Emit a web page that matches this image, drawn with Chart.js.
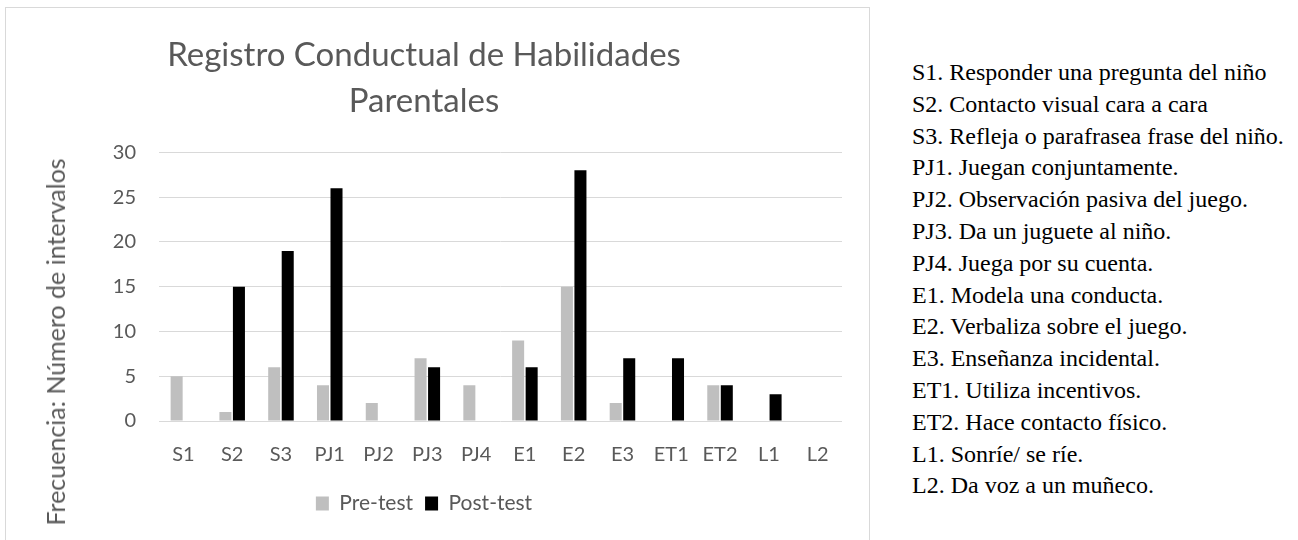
<!DOCTYPE html>
<html>
<head>
<meta charset="utf-8">
<script src="https://cdn.jsdelivr.net/npm/chart.js@4"></script>
<style>
    html, body { margin: 0; padding: 0; background: #fff; width: 1298px; height: 540px; overflow: hidden; }
    #chartBox {
        position: absolute; left: 5px; top: 7px;
        width: 863px; height: 558px;
        border: 1px solid #d9d9d9;
        overflow: hidden;
    }
    #yTitle {
        position: absolute; left: 55px; top: 342px;
        transform: translate(-50%, -50%) rotate(-90deg);
        white-space: nowrap;
        font-family: Lato, sans-serif; font-size: 25px; color: #595959;
    }
    #legendList {
        position: absolute; left: 912px; top: 57px;
        margin: 0; padding: 0; list-style: none;
        font-family: "Liberation Serif", "Times New Roman", serif;
        font-size: 24px; line-height: 31.8px; color: #000;
    }
</style>
</head>
<body>
<div id="chartBox"><canvas id="habilidadesChart" width="863" height="558"></canvas></div>
<div id="yTitle">Frecuencia: Número de intervalos</div>
<ul id="legendList"></ul>

<script>
    const categories = ['S1', 'S2', 'S3', 'PJ1', 'PJ2', 'PJ3', 'PJ4', 'E1', 'E2', 'E3', 'ET1', 'ET2', 'L1', 'L2'];
    const preTest  = [5, 1, 6, 4, 2, 7, 4, 9, 15, 2, 0, 4, 0, 0];
    const postTest = [0, 15, 19, 26, 0, 6, 0, 6, 28, 7, 7, 4, 3, 0];
    const yMax = 30;
    const yStep = 5;
    const descriptions = [
        'S1. Responder una pregunta del niño',
        'S2. Contacto visual cara a cara',
        'S3. Refleja o parafrasea frase del niño.',
        'PJ1. Juegan conjuntamente.',
        'PJ2. Observación pasiva del juego.',
        'PJ3. Da un juguete al niño.',
        'PJ4. Juega por su cuenta.',
        'E1. Modela una conducta.',
        'E2. Verbaliza sobre el juego.',
        'E3. Enseñanza incidental.',
        'ET1. Utiliza incentivos.',
        'ET2. Hace contacto físico.',
        'L1. Sonríe/ se ríe.',
        'L2. Da voz a un muñeco.'
    ];

    // lista de la derecha
    const list = document.getElementById('legendList');
    descriptions.forEach(function(txt) {
        const li = document.createElement('li');
        li.textContent = txt;
        list.appendChild(li);
    });

    const textGray = '#595959';
    const gridGray = '#d9d9d9';

    const ctx = document.getElementById('habilidadesChart').getContext('2d');
    new Chart(ctx, {
        type: 'bar',
        data: {
            labels: categories,
            datasets: [{
                label: 'Pre-test',
                data: preTest,
                backgroundColor: '#bfbfbf',
                borderWidth: 0
            }, {
                label: 'Post-test',
                data: postTest,
                backgroundColor: '#000000',
                borderWidth: 0
            }]
        },
        options: {
            responsive: false,
            animation: false,
            categoryPercentage: 0.554,
            barPercentage: 0.89,
            layout: { padding: { left: 0, right: 27, top: 0, bottom: 42 } },
            plugins: {
                tooltip: { enabled: false },
                title: {
                    display: true,
                    text: ['Registro Conductual de Habilidades', 'Parentales'],
                    color: textGray,
                    font: { family: 'Lato', size: 33, weight: 'normal', lineHeight: 1.4 },
                    padding: { top: 24, bottom: 28 }
                },
                legend: {
                    position: 'bottom',
                    labels: {
                        color: textGray,
                        font: { family: 'Lato', size: 21 },
                        boxWidth: 13,
                        boxHeight: 14,
                        padding: 12
                    }
                }
            },
            scales: {
                x: {
                    grid: { display: false, drawTicks: false },
                    border: { display: false },
                    ticks: { color: textGray, font: { family: 'Lato', size: 20 }, padding: 22, maxRotation: 0 },
                    afterFit: function(axis) { axis.height = 60; }
                },
                y: {
                    min: 0,
                    max: yMax,
                    grid: { color: gridGray, lineWidth: 1, drawTicks: false },
                    border: { display: false },
                    ticks: { stepSize: yStep, color: textGray, font: { family: 'Lato', size: 20 }, padding: 23 },
                    afterFit: function(axis) { axis.width = 153; }
                }
            }
        }
    });
</script>
</body>
</html>
